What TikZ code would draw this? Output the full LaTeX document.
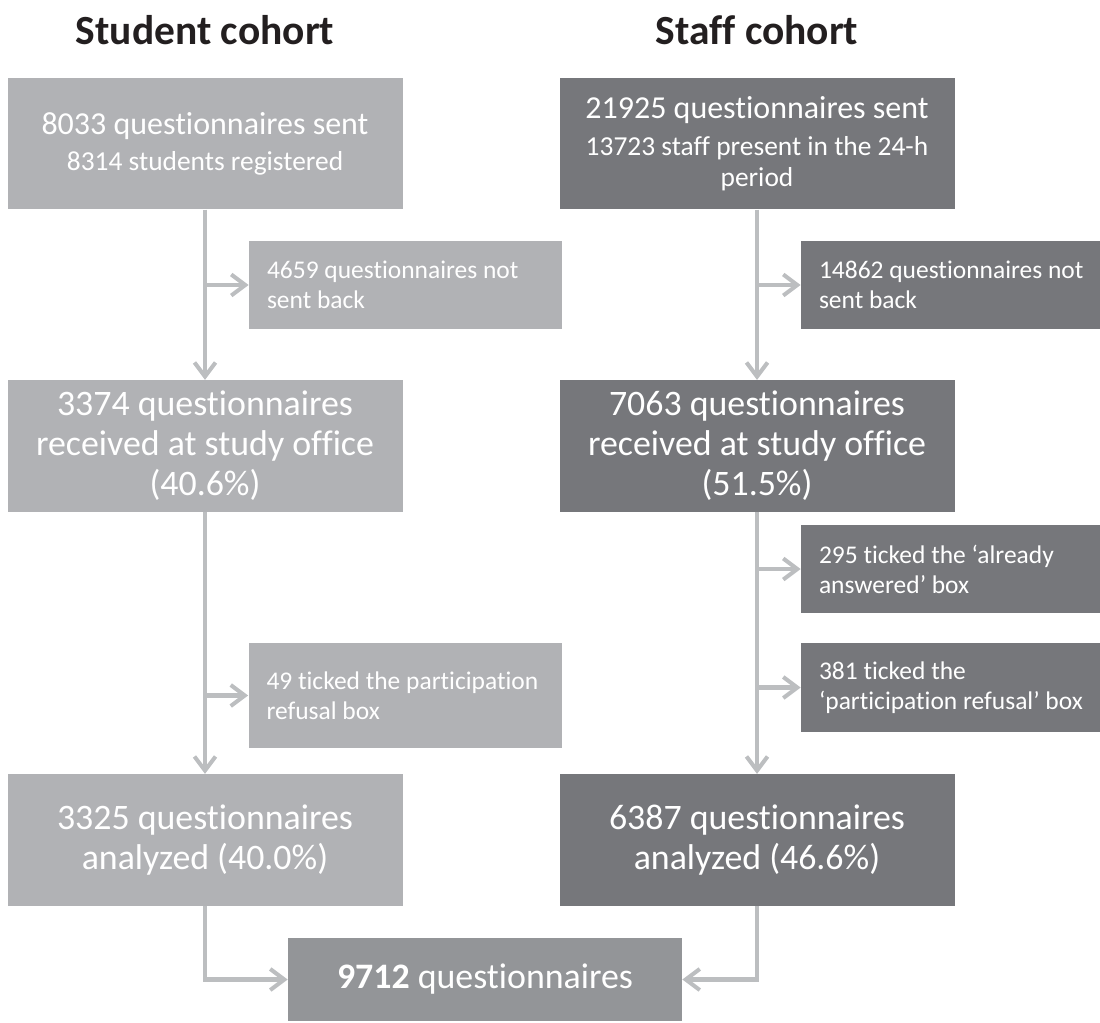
\documentclass[tikz,border=0pt]{standalone}
\usepackage{fontspec}
\setmainfont{Carlito}[Ligatures={NoCommon}]
\usepackage{xcolor}
\definecolor{stulight}{RGB}{177,178,181}
\definecolor{stfdark}{RGB}{118,119,123}
\definecolor{totalgrey}{RGB}{147,149,152}
\definecolor{arrgrey}{RGB}{188,190,192}
\definecolor{headink}{RGB}{35,31,32}
\usepackage{tikz}
\usetikzlibrary{arrows.meta}
\newcommand{\bigtxt}{\fontsize{20.4pt}{22.8pt}\selectfont}
\newcommand{\toptxt}{\fontsize{18.2pt}{20pt}\selectfont}
\newcommand{\subtxt}{\fontsize{15.6pt}{17.6pt}\selectfont}
\newcommand{\notetxt}{\fontsize{14.5pt}{17pt}\selectfont}

\begin{document}
\begin{tikzpicture}[
      head/.style={anchor=base,text=headink,font=\fontsize{23.6pt}{26pt}\selectfont\bfseries},
      box/.style={rectangle,inner sep=0pt,text=white,align=center,minimum width=7.9cm,minimum height=2.63cm,font=\bigtxt},
      stubox/.style={box,fill=stulight},
      stfbox/.style={box,fill=stfdark},
      note/.style={rectangle,inner xsep=0pt,inner ysep=0pt,text=white,align=flush left,minimum height=1.76cm,font=\notetxt,
        execute at begin node={\leftskip=0.36cm\hyphenpenalty=10000\relax}},
      stunote/.style={note,fill=stulight,text width=6.26cm},
      stfnote/.style={note,fill=stfdark,text width=5.98cm},
      arr/.style={-{Straight Barb[length=8pt,width=12pt,line width=2.3pt]},line width=2.3pt,arrgrey}]
    \useasboundingbox (0,0) rectangle (22,-20.44);
    % cohort headings
    \node[head] (hStu) at (4.1,-0.9) {Student cohort};
    \node[head] (hStf) at (15.14,-0.9) {Staff cohort};
    % student column
    \node[stubox,font=\subtxt] (s1) at (4.1,-2.87) {{\toptxt 8033 questionnaires sent}\\[2.8pt] 8314 students registered};
    \node[stubox] (s2) at (4.1,-8.92) {3374 questionnaires\\ received at study office\\ (40.6\%)};
    \node[stubox] (s3) at (4.1,-16.8) {3325 questionnaires\\ analyzed (40.0\%)};
    \node[stunote] (sOut1) at (8.11,-5.7) {4659 questionnaires not\\ sent back};
    \node[stunote,minimum height=2.1cm] (sOut2) at (8.1,-13.91) {49 ticked the participation\\ refusal box};
    % staff column
    \node[stfbox,font=\subtxt] (f1) at (15.14,-2.87) {{\toptxt 21925 questionnaires sent}\\[3.4pt] 13723 staff present in the 24-h\\ period};
    \node[stfbox] (f2) at (15.14,-8.92) {7063 questionnaires\\ received at study office\\ (51.5\%)};
    \node[stfbox] (f3) at (15.14,-16.8) {6387 questionnaires\\ analyzed (46.6\%)};
    \node[stfnote] (fOut1) at (19.01,-5.7) {14862 questionnaires not\\ sent back};
    \node[stfnote] (fOut2) at (19.01,-11.38) {295 ticked the ‘already\\ answered’ box};
    \node[stfnote,minimum height=1.78cm] (fOut3) at (19.01,-13.75) {381 ticked the\\ ‘participation refusal’ box};
    % pooled total
    \node[box,fill=totalgrey,minimum width=7.88cm,minimum height=1.66cm,font=\fontsize{20.4pt}{22pt}\selectfont] (tot) at (9.7,-19.59)
      {\textbf{9712} questionnaires};
    % main flow
    \draw[arr] (s1.south) -- (s2.north);
    \draw[arr] (s2.south) -- (s3.north);
    \draw[arr] (f1.south) -- (f2.north);
    \draw[arr] (f2.south) -- (f3.north);
    % exclusions
    \foreach \c/\n in {s1/sOut1,s2/sOut2,f1/fOut1,f2/fOut2,f2/fOut3}
      \draw[arr] (\n.west -| \c.south) -- (\n.west);
    % merge
    \draw[arr] (s3.south) |- (tot.west);
    \draw[arr] (f3.south) |- (tot.east);
  \end{tikzpicture}
\end{document}
